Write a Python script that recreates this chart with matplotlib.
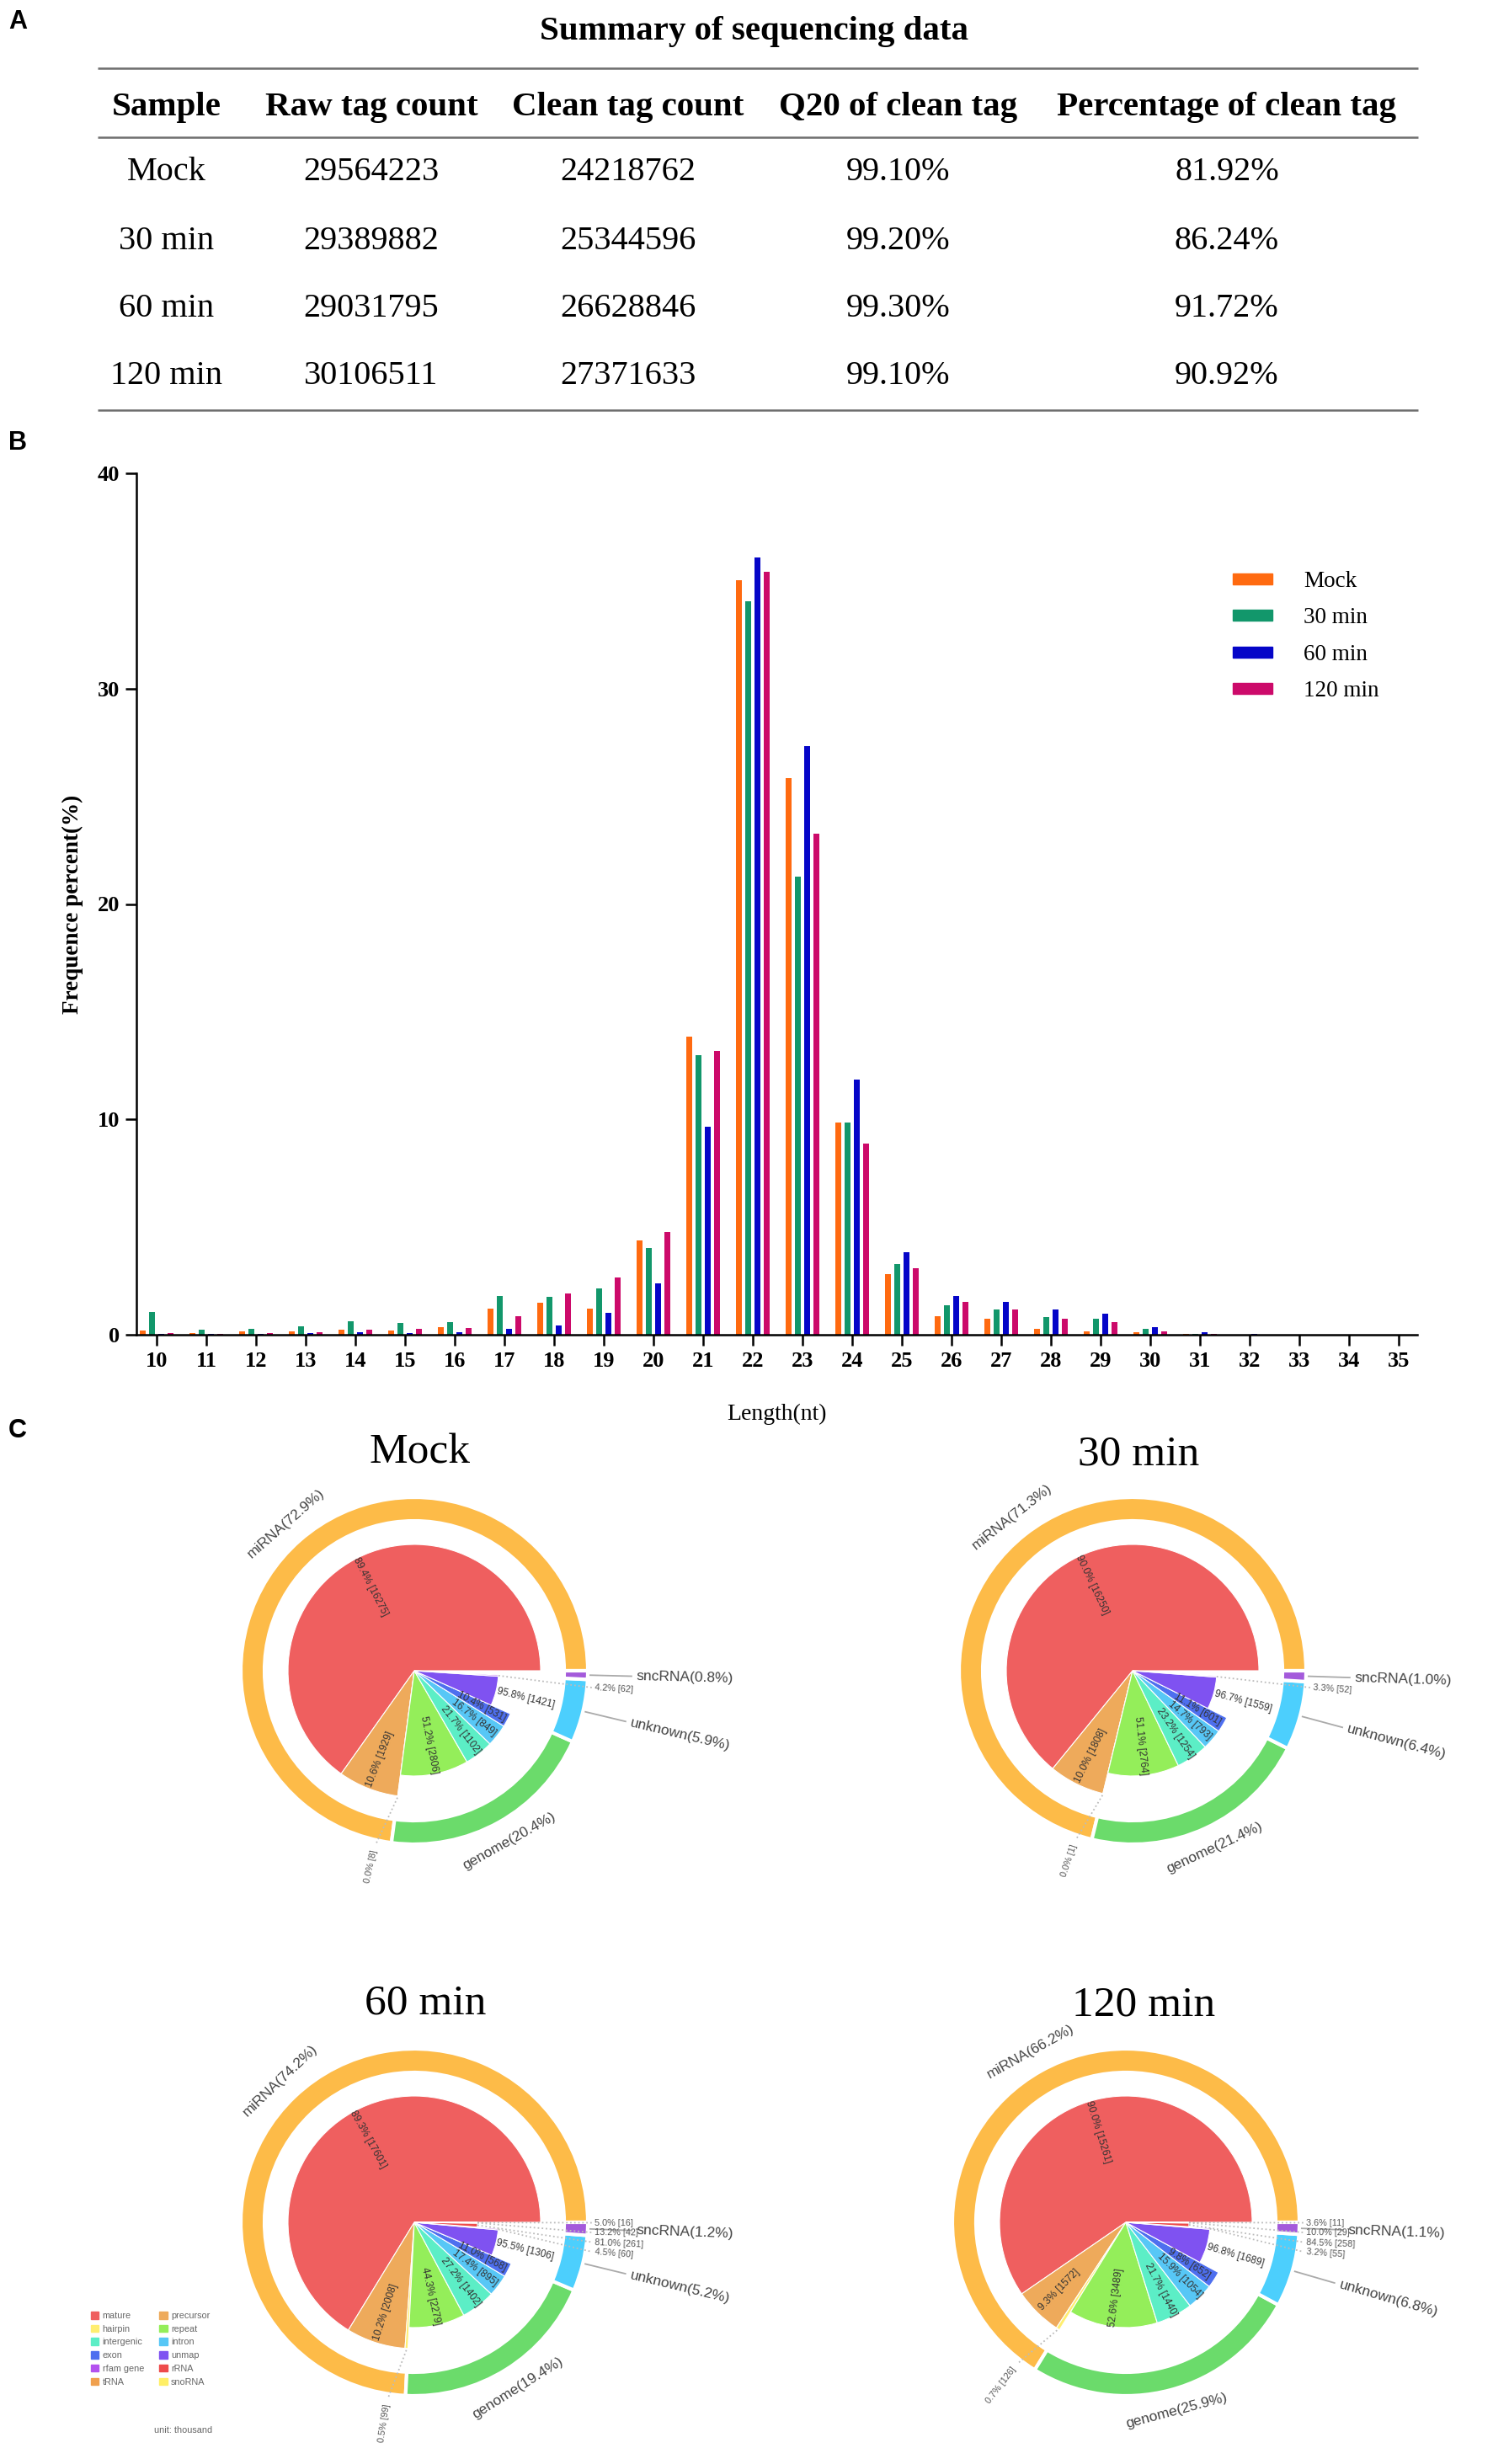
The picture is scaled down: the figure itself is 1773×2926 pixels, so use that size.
"""Small RNA sequencing overview: summary table, tag length distribution, annotation pies."""

import matplotlib

matplotlib.use("Agg")

import matplotlib.pyplot as plt
import numpy as np
from matplotlib.patches import Patch

W, H = 1774, 2926
DPI = 100
SERIF = ["Liberation Serif", "DejaVu Serif"]
SANS = ["Liberation Sans", "DejaVu Sans"]

# ---------------------------------------------------------------- panel A data
table_title = "Summary of sequencing data"
table_columns = ["Sample", "Raw tag count", "Clean tag count",
                 "Q20 of clean tag", "Percentage of clean tag"]
samples = ["Mock", "30 min", "60 min", "120 min"]
raw_tag_count = [29564223, 29389882, 29031795, 30106511]
clean_tag_count = [24218762, 25344596, 26628846, 27371633]
q20_clean_tag = ["99.10%", "99.20%", "99.30%", "99.10%"]
pct_clean_tag = ["81.92%", "86.24%", "91.72%", "90.92%"]

# ---------------------------------------------------------------- panel B data
lengths = list(range(10, 36))
freq_mock = [0.2, 0.09, 0.14, 0.14, 0.23, 0.2, 0.35, 1.21, 1.5, 1.21, 4.37, 13.85,
             35.03, 25.86, 9.86, 2.81, 0.87, 0.75, 0.29, 0.17, 0.12, 0.03, 0.01, 0, 0, 0]
freq_30 = [1.05, 0.23, 0.29, 0.4, 0.61, 0.55, 0.58, 1.79, 1.76, 2.14, 4.02, 12.99,
           34.07, 21.29, 9.86, 3.27, 1.36, 1.19, 0.81, 0.75, 0.26, 0.04, 0.01, 0, 0, 0]
freq_60 = [0.05, 0.05, 0.05, 0.08, 0.12, 0.07, 0.13, 0.29, 0.43, 1.01, 2.37, 9.66,
           36.1, 27.33, 11.86, 3.85, 1.79, 1.53, 1.16, 0.98, 0.35, 0.1, 0.04, 0, 0, 0]
freq_120 = [0.08, 0.05, 0.08, 0.13, 0.25, 0.28, 0.33, 0.87, 1.91, 2.66, 4.77, 13.16,
            35.43, 23.28, 8.88, 3.09, 1.53, 1.16, 0.75, 0.58, 0.17, 0.02, 0.01, 0, 0, 0]
bar_series = [freq_mock, freq_30, freq_60, freq_120]
bar_colors = ["#FF6A10", "#12976B", "#0505C8", "#CC0A6A"]

# ---------------------------------------------------------------- panel C data
ring_groups = ["miRNA", "genome", "unknown", "sncRNA"]
ring_mock = [72.9, 20.4, 5.9, 0.8]
ring_30 = [71.3, 21.4, 6.4, 1.0]
ring_60 = [74.2, 19.4, 5.2, 1.2]
ring_120 = [66.2, 25.9, 6.8, 1.1]

mirna_parts = ["mature", "precursor", "hairpin"]
mirna_pct_mock, mirna_cnt_mock = [89.4, 10.6, 0.0], [16275, 1929, 8]
mirna_pct_30, mirna_cnt_30 = [90.0, 10.0, 0.0], [16250, 1808, 1]
mirna_pct_60, mirna_cnt_60 = [89.3, 10.2, 0.5], [17601, 2008, 99]
mirna_pct_120, mirna_cnt_120 = [90.0, 9.3, 0.7], [15261, 1572, 126]

genome_parts = ["repeat", "intergenic", "intron", "exon"]
genome_pct_mock, genome_cnt_mock = [51.2, 21.7, 16.7, 10.4], [2806, 1102, 849, 531]
genome_pct_30, genome_cnt_30 = [51.1, 23.2, 14.7, 11.1], [2764, 1254, 793, 601]
genome_pct_60, genome_cnt_60 = [44.3, 27.2, 17.4, 11.0], [2279, 1402, 895, 568]
genome_pct_120, genome_cnt_120 = [52.6, 21.7, 15.9, 9.8], [3489, 1440, 1054, 652]

unknown_parts = ["unmap", "rfam gene"]
unknown_pct_mock, unknown_cnt_mock = [95.8, 4.2], [1421, 62]
unknown_pct_30, unknown_cnt_30 = [96.7, 3.3], [1559, 52]
unknown_pct_60, unknown_cnt_60 = [95.5, 4.5], [1306, 60]
unknown_pct_120, unknown_cnt_120 = [96.8, 3.2], [1689, 55]

sncrna_parts = ["rRNA", "tRNA", "snoRNA"]
sncrna_pct_60, sncrna_cnt_60 = [81.0, 13.2, 5.0], [261, 42, 16]
sncrna_pct_120, sncrna_cnt_120 = [84.5, 10.0, 3.6], [258, 29, 11]

legend_order = ["mature", "hairpin", "intergenic", "exon", "rfam gene", "tRNA",
                "precursor", "repeat", "intron", "unmap", "rRNA", "snoRNA"]

RING_COLORS = {"miRNA": "#FDBB48", "genome": "#6BDB6B",
               "unknown": "#4CCFFD", "sncRNA": "#A45ADB"}
PART_COLORS = {"mature": "#EF5F5F", "precursor": "#EEAA5B", "hairpin": "#FFEE70",
               "repeat": "#94EE5A", "intergenic": "#5CEEC6", "intron": "#57C7F6",
               "exon": "#4E6FEF", "unmap": "#7F52F1", "rfam gene": "#B352EF",
               "rRNA": "#EE4B4B", "tRNA": "#F0A04E", "snoRNA": "#FFEF66"}
LABEL_MODE = {"mature": "inside", "precursor": "inside", "hairpin": "radial",
              "repeat": "inside", "intergenic": "inside", "intron": "inside",
              "exon": "inside", "unmap": "inside", "rfam gene": "stack",
              "rRNA": "stack", "tRNA": "stack", "snoRNA": "stack"}
RING_R, RING_W = 206, 28
GROUP_R = {"miRNA": 150, "genome": 125, "unknown": 100, "sncRNA": 75}
INSIDE_R = {"miRNA": 0.75, "genome": 0.72, "unknown": 1.36, "sncRNA": 0.7}


def top(y):
    """Convert a top-based pixel row to canvas data coordinates."""
    return H - y


def norm_rot(angle):
    a = (angle + 180.0) % 360.0 - 180.0
    if a > 90:
        a -= 180
    elif a < -90:
        a += 180
    return a


def polar(cx, cy, r, angle):
    t = np.deg2rad(angle)
    return cx + r * np.cos(t), cy + r * np.sin(t)


def draw_table(ax):
    col_x = [198, 441, 746, 1067, 1457]
    row_y = [205, 286, 367, 447]
    ax.text(896, top(37), table_title, ha="center", va="center",
            fontsize=29.5, fontweight="bold", family=SERIF)
    for y in (81, 163, 487):
        ax.plot([116, 1684], [top(y), top(y)], color="#6e6e6e", lw=1.8,
                solid_capstyle="butt")
    for x, name in zip(col_x, table_columns):
        ax.text(x, top(127), name, ha="center", va="center",
                fontsize=29.5, fontweight="bold", family=SERIF)
    rows = zip(samples, raw_tag_count, clean_tag_count, q20_clean_tag, pct_clean_tag)
    for y, row in zip(row_y, rows):
        for x, cell in zip(col_x, row):
            ax.text(x, top(y), str(cell), ha="center", va="center",
                    fontsize=29, family=SERIF)


def draw_bars(fig):
    left, right, y_top, y_bot = 162, 1683, 562, 1585
    ax = fig.add_axes([left / W, (H - y_bot) / H, (right - left) / W, (y_bot - y_top) / H])
    x = np.arange(len(lengths))
    step, width = 0.187, 0.118
    for k, (vals, color, name) in enumerate(zip(bar_series, bar_colors, samples)):
        ax.bar(x + (k - 1.5) * step, vals, width=width, color=color, label=name, zorder=2)
    ax.set_xlim(-0.407, 25.37)
    ax.set_ylim(0, 40)
    ax.set_xticks(x, [str(v) for v in lengths])
    ax.set_yticks([0, 10, 20, 30, 40])
    for side in ("top", "right"):
        ax.spines[side].set_visible(False)
    for side in ("left", "bottom"):
        ax.spines[side].set_linewidth(1.8)
        ax.spines[side].set_zorder(3)
    ax.tick_params(direction="out", length=9.5, width=1.8, labelsize=19, pad=5)
    for lab in ax.get_xticklabels() + ax.get_yticklabels():
        lab.set_fontfamily(SERIF)
        lab.set_fontweight("bold")
    ax.set_xlabel("Length(nt)", fontsize=20, family=SERIF)
    ax.xaxis.set_label_coords(0.5, -(1679 - y_bot) / (y_bot - y_top))
    ax.xaxis.label.set_va("center")
    ax.set_ylabel("Frequence percent(%)", fontsize=19.5, fontweight="bold", family=SERIF)
    ax.yaxis.set_label_coords(-(left - 86) / (right - left), 0.5)
    ax.yaxis.label.set_va("center")
    handles = [Patch(color=c, label=n) for c, n in zip(bar_colors, samples)]
    ax.legend(handles=handles, loc="upper left",
              bbox_to_anchor=((1464 - left) / (right - left), (y_bot - 678) / (y_bot - y_top)),
              frameon=False, prop={"family": SERIF, "size": 19.5},
              handlelength=1.74, handleheight=0.37, handletextpad=1.37,
              labelspacing=0.68, borderpad=0, borderaxespad=0)


def draw_pie(ax, cx, cy, title, title_xy, ring_values, parts):
    ax.text(title_xy[0], title_xy[1], title, ha="center", va="center",
            fontsize=37, family=SERIF)
    frac = np.asarray(ring_values, float)
    frac = frac / frac.sum()
    ax.pie(frac, radius=RING_R, center=(cx, cy), startangle=0,
           colors=[RING_COLORS[g] for g in ring_groups],
           wedgeprops=dict(width=RING_W, edgecolor="white", linewidth=3), frame=True)
    edges = np.concatenate([[0.0], np.cumsum(frac)]) * 360
    stack = []
    for gi, group in enumerate(ring_groups):
        a0, a1 = edges[gi], edges[gi + 1]
        mid = (a0 + a1) / 2
        text = f"{group}({ring_values[gi]:.1f}%)"
        if a1 - a0 > 40:
            x, y = polar(cx, cy, RING_R + 26, mid)
            ax.text(x, y, text, rotation=norm_rot(mid + 90), ha="center", va="center",
                    rotation_mode="anchor", fontsize=12.5, color="#444444", family=SANS)
        else:
            x0, y0 = polar(cx, cy, RING_R + 3, mid)
            x1, y1 = polar(cx, cy, RING_R + 52, mid)
            ax.plot([x0, x1], [y0, y1], color="#aaaaaa", lw=1.3)
            x, y = polar(cx, cy, RING_R + 58, mid)
            ax.text(x, y, text, rotation=norm_rot(mid), ha="left", va="center",
                    rotation_mode="anchor", fontsize=12.5, color="#444444", family=SANS)

        names, pcts, counts = parts[gi]
        if not names:
            continue
        r = GROUP_R[group]
        sub = frac[gi] * np.asarray(pcts, float) / 100
        ax.pie(sub, radius=r, center=(cx, cy), startangle=a0, normalize=False,
               colors=[PART_COLORS[n] for n in names],
               wedgeprops=dict(edgecolor="white", linewidth=0.8), frame=True)
        sub_edges = a0 + 360 * np.concatenate([[0.0], np.cumsum(sub)])
        for name, pct, cnt, b0, b1 in zip(names, pcts, counts, sub_edges[:-1], sub_edges[1:]):
            m = (b0 + b1) / 2
            label = f"{pct:.1f}% [{cnt}]"
            mode = LABEL_MODE[name]
            if mode == "inside":
                x, y = polar(cx, cy, r * INSIDE_R[group], m)
                ax.text(x, y, label, rotation=norm_rot(m), ha="center", va="center",
                        rotation_mode="anchor", fontsize=8.6, color="#333333", family=SANS)
            elif mode == "radial":
                la = m - 5
                xs, ys = polar(cx, cy, r + 2, m)
                xe, ye = polar(cx, cy, RING_R + 6, la)
                ax.plot([xs, xe], [ys, ye], ls=":", color="#bbbbbb", lw=1.3)
                xt, yt = polar(cx, cy, RING_R + 12, la)
                ha = "left" if np.cos(np.deg2rad(la)) >= 0 else "right"
                ax.text(xt, yt, label, rotation=norm_rot(la), ha=ha, va="center",
                        rotation_mode="anchor", fontsize=7.8, color="#555555", family=SANS)
            else:
                stack.append((m, group, r, label))

    stack.sort(key=lambda s: -s[0])
    prev = None
    for m, group, r, label in stack:
        y = cy + (RING_R + 6) * np.sin(np.deg2rad(m))
        if group == "unknown":
            y = min(y, cy - 20)
        if prev is not None:
            y = min(y, prev - 11.5)
        prev = y
        xs, ys = polar(cx, cy, r, m)
        xl = cx + 214
        ax.plot([xs, xl - 3], [ys, y], ls=":", color="#bbbbbb", lw=1.3)
        ax.text(xl, y, label, rotation=norm_rot(m), ha="left", va="center",
                rotation_mode="anchor", fontsize=7.8, color="#555555", family=SANS)


def main():
    fig = plt.figure(figsize=(W / DPI, H / DPI), dpi=DPI)
    fig.patch.set_facecolor("white")
    canvas = fig.add_axes([0, 0, 1, 1])
    canvas.patch.set_visible(False)

    for letter, y in (("A", 11), ("B", 511), ("C", 1684)):
        canvas.text(10, top(y), letter, ha="left", va="top", fontsize=22,
                    fontweight="bold", family=SANS)

    draw_table(canvas)

    pies = [
        ("Mock", (492, 1984), (499, 1725), ring_mock,
         [(mirna_parts, mirna_pct_mock, mirna_cnt_mock),
          (genome_parts, genome_pct_mock, genome_cnt_mock),
          (unknown_parts, unknown_pct_mock, unknown_cnt_mock),
          ([], [], [])]),
        ("30 min", (1345, 1984), (1352, 1727), ring_30,
         [(mirna_parts, mirna_pct_30, mirna_cnt_30),
          (genome_parts, genome_pct_30, genome_cnt_30),
          (unknown_parts, unknown_pct_30, unknown_cnt_30),
          ([], [], [])]),
        ("60 min", (492, 2639), (505, 2379), ring_60,
         [(mirna_parts, mirna_pct_60, mirna_cnt_60),
          (genome_parts, genome_pct_60, genome_cnt_60),
          (unknown_parts, unknown_pct_60, unknown_cnt_60),
          (sncrna_parts, sncrna_pct_60, sncrna_cnt_60)]),
        ("120 min", (1337, 2639), (1358, 2381), ring_120,
         [(mirna_parts, mirna_pct_120, mirna_cnt_120),
          (genome_parts, genome_pct_120, genome_cnt_120),
          (unknown_parts, unknown_pct_120, unknown_cnt_120),
          (sncrna_parts, sncrna_pct_120, sncrna_cnt_120)]),
    ]
    for title, (px, py), (tx, ty), ring, parts in pies:
        draw_pie(canvas, px, top(py), title, (tx, top(ty)), ring, parts)

    handles = [Patch(color=PART_COLORS[n], label=n) for n in legend_order]
    canvas.legend(handles=handles, loc="upper left", bbox_to_anchor=(108, top(2745)),
                  bbox_transform=canvas.transData, ncol=2, frameon=False,
                  prop={"family": SANS, "size": 7.8}, labelcolor="#666666",
                  handlelength=0.85, handleheight=0.85, handletextpad=0.4,
                  labelspacing=0.52, columnspacing=1.7, borderpad=0, borderaxespad=0)
    canvas.text(218, top(2886), "unit: thousand", ha="center", va="center",
                fontsize=7.8, color="#666666", family=SANS)

    canvas.set_xlim(0, W)
    canvas.set_ylim(0, H)
    canvas.set_axis_off()

    draw_bars(fig)
    fig.savefig("out.png", dpi=DPI)
    plt.close(fig)


if __name__ == "__main__":
    main()
